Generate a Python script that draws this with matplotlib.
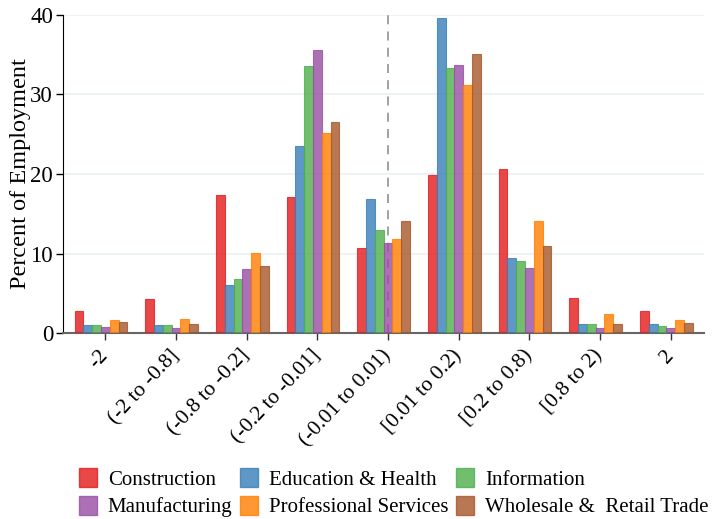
import numpy as np
import matplotlib
matplotlib.use("Agg")
import matplotlib.pyplot as plt
from matplotlib.patches import Patch

# categories on the x axis
bins = ["-2", "(-2 to -0.8]", "(-0.8 to -0.2]", "(-0.2 to -0.01]", "(-0.01 to 0.01)",
        "[0.01 to 0.2)", "[0.2 to 0.8)", "[0.8 to 2)", "2"]

sectors = ["Construction", "Education & Health", "Information",
           "Manufacturing", "Professional Services", "Wholesale &  Retail Trade"]

# percent of employment
construction = [2.8, 4.3, 17.3, 17.1, 10.7, 19.8, 20.6, 4.4, 2.8]
education = [1.0, 1.0, 6.0, 23.5, 16.9, 39.6, 9.4, 1.2, 1.2]
information = [1.0, 1.0, 6.8, 33.6, 12.9, 33.3, 9.1, 1.2, 0.9]
manufacturing = [0.8, 0.7, 8.1, 35.6, 11.3, 33.7, 8.2, 0.7, 0.6]
professional = [1.6, 1.8, 10.1, 25.1, 11.8, 31.1, 14.1, 2.4, 1.7]
wholesale = [1.4, 1.1, 8.4, 26.5, 14.1, 35.0, 10.9, 1.1, 1.3]

series = [construction, education, information, manufacturing, professional, wholesale]
colors = ["#e41a1c", "#377eb8", "#4daf4a", "#984ea3", "#ff7f00", "#a65628"]

plt.rcParams['font.family'] = ['Liberation Serif', 'DejaVu Serif']

fig = plt.figure(figsize=(7.13, 5.19), dpi=100)
ax = fig.add_axes([0.088, 0.358, 0.899, 0.614])

x = np.arange(len(bins))
w = 0.124
for i, (vals, col) in enumerate(zip(series, colors)):
    ax.bar(x + (i - 3) * w, vals, width=w, color=col, alpha=0.8,
           edgecolor=col, linewidth=0.8, zorder=3)

# dashed reference line at zero change
ax.axvline(4, color="#9a9a9a", linestyle=(0, (5, 4)), linewidth=1.3, zorder=2)

ax.set_xlim(-0.603, 8.467)
ax.set_ylim(0, 40)
ax.set_yticks([0, 10, 20, 30, 40])
ax.yaxis.grid(True, color="#eaf1f3", linewidth=1.2, zorder=0)
ax.set_axisbelow(True)

ax.set_xticks(x)
ax.set_xticklabels(bins, rotation=47, ha="right", va="center", rotation_mode="anchor")
ax.tick_params(axis="x", length=5, width=1, color="#333333", labelsize=15.5, pad=9)
ax.tick_params(axis="y", length=5, width=1, labelsize=16.5, pad=2)

for s in ["top", "right"]:
    ax.spines[s].set_visible(False)
ax.spines["left"].set_color("black")
ax.spines["bottom"].set_color("#666666")
ax.spines["bottom"].set_linewidth(1.5)

ax.set_ylabel("Percent of Employment", fontsize=17.5)
ax.yaxis.set_label_coords(-0.05, 0.5)

# legend filled row by row: matplotlib fills columns, so reorder
order = [0, 3, 1, 4, 2, 5]
handles = [Patch(facecolor=colors[k], edgecolor=colors[k], alpha=0.8) for k in order]
labels = [sectors[k] for k in order]
fig.legend(handles, labels, ncol=3, loc="lower left", bbox_to_anchor=(0.084, -0.033),
           frameon=False, fontsize=15, handlelength=0.9, handleheight=1.0,
           handletextpad=0.5, columnspacing=0.35, labelspacing=0.3)

fig.savefig("out.png", dpi=100)
